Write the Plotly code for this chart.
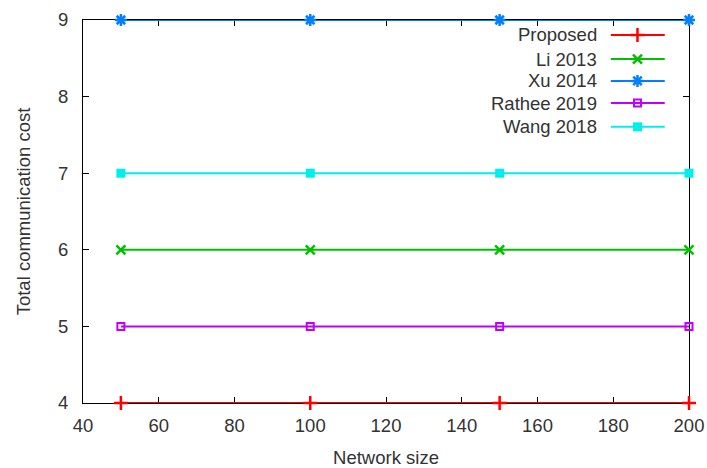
import plotly.graph_objects as go

# Network sizes and total communication cost per scheme
network_size = [50, 100, 150, 200]
proposed = [4, 4, 4, 4]
li_2013 = [6, 6, 6, 6]
xu_2014 = [9, 9, 9, 9]
rathee_2019 = [5, 5, 5, 5]
wang_2018 = [7, 7, 7, 7]

x_ticks = [40, 60, 80, 100, 120, 140, 160, 180, 200]
y_ticks = [4, 5, 6, 7, 8, 9]

# name, values, colour, marker symbol, marker size, marker outline width
series = [
    ("Proposed", proposed, "#ff0000", "cross-thin-open", 10, 2.5),
    ("Li 2013", li_2013, "#00c000", "x-thin-open", 9, 2.5),
    ("Xu 2014", xu_2014, "#0080ff", "asterisk-open", 10, 2.5),
    ("Rathee 2019", rathee_2019, "#c000ff", "square-open", 7, 2),
    ("Wang 2018", wang_2018, "#00eeee", "square", 9, 0),
]

FONT = "Liberation Sans, Arial, sans-serif"
TEXT = "#333333"
FS = 18.5

fig = go.Figure()

for name, values, color, symbol, size, lw in series:
    fig.add_trace(go.Scatter(
        x=network_size, y=values, mode="lines+markers", name=name,
        line=dict(color=color, width=2),
        marker=dict(symbol=symbol, size=size, color=color,
                    line=dict(color=color, width=lw)),
        cliponaxis=False, showlegend=False,
    ))

# Key drawn on an overlay axis spanning the plot area (0..1 each way),
# with the label to the left of its sample, right-aligned.
key_rows = [0.961, 0.898, 0.841, 0.783, 0.721]
key_x0, key_x1, key_xm = 0.871, 0.960, 0.915
key_text_x = 0.852
for (name, values, color, symbol, size, lw), ky in zip(series, key_rows):
    fig.add_trace(go.Scatter(
        x=[key_x0, key_x1], y=[ky, ky], mode="lines",
        line=dict(color=color, width=2), xaxis="x2", yaxis="y2",
        showlegend=False, hoverinfo="skip",
    ))
    fig.add_trace(go.Scatter(
        x=[key_xm], y=[ky], mode="markers",
        marker=dict(symbol=symbol, size=size, color=color,
                    line=dict(color=color, width=lw)),
        xaxis="x2", yaxis="y2", showlegend=False, hoverinfo="skip",
    ))
    fig.add_annotation(
        x=key_text_x, y=ky, xref="x2", yref="y2", text=name,
        showarrow=False, xanchor="right", yanchor="middle",
        font=dict(family=FONT, size=FS, color=TEXT),
    )

axis_common = dict(
    showgrid=False, zeroline=False, showline=True, linecolor="black",
    linewidth=1, mirror="ticks", ticks="inside", ticklen=6,
    tickcolor="black", tickwidth=1, automargin=False, layer="below traces",
    tickfont=dict(family=FONT, size=FS, color=TEXT),
)

fig.update_layout(
    width=707, height=468,
    margin=dict(l=83, r=18, t=20, b=65, autoexpand=False),
    plot_bgcolor="white", paper_bgcolor="white",
    xaxis=dict(range=[40, 200], tickvals=x_ticks, ticklabelstandoff=6,
               title=dict(text="Network size", standoff=15,
                          font=dict(family=FONT, size=FS, color=TEXT)),
               **axis_common),
    yaxis=dict(range=[4, 9], tickvals=y_ticks, ticklabelstandoff=10,
               title=dict(text="Total communication cost", standoff=22,
                          font=dict(family=FONT, size=FS, color=TEXT)),
               **axis_common),
    xaxis2=dict(range=[0, 1], overlaying="x", visible=False),
    yaxis2=dict(range=[0, 1], overlaying="y", visible=False),
)

fig.write_html("out.html")
